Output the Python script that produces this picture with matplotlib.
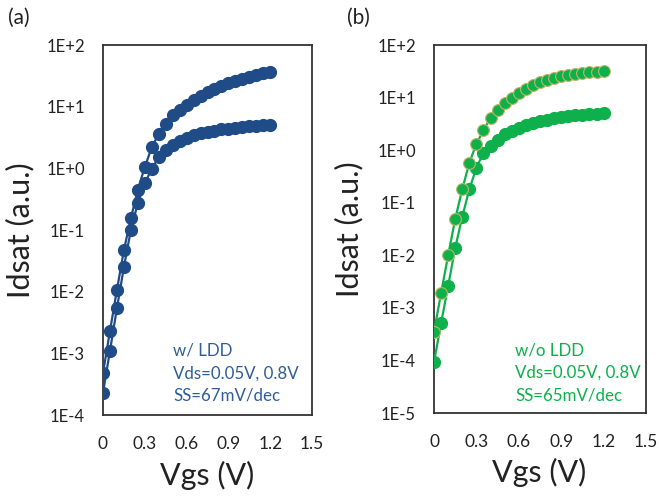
import matplotlib
matplotlib.use("Agg")
import matplotlib.pyplot as plt
from matplotlib.ticker import LogLocator, FuncFormatter, NullLocator
import numpy as np

plt.rcParams['font.family'] = ['Lato', 'DejaVu Sans']

# gate voltage sweep (V)
vgs = [0.0, 0.05, 0.1, 0.15, 0.2, 0.25, 0.3, 0.35, 0.4, 0.45, 0.5, 0.55, 0.6,
       0.65, 0.7, 0.75, 0.8, 0.85, 0.9, 0.95, 1.0, 1.05, 1.1, 1.15, 1.2]

# (a) w/ LDD
ldd_vds08 = [4.8e-4, 2.3e-3, 1.07e-2, 4.7e-2, 0.155, 0.45, 1.05, 2.2, 3.6, 5.2, 7.2, 8.9, 10.7,
             12.6, 14.8, 17.0, 19.5, 21.9, 24.0, 26.3, 28.2, 30.2, 32.4, 34.7, 36.3]
ldd_vds005 = [2.3e-4, 1.1e-3, 5.4e-3, 2.5e-2, 0.10, 0.275, 0.575, 0.98, 1.51, 2.0, 2.4, 2.8, 3.16,
              3.47, 3.72, 3.89, 4.07, 4.27, 4.42, 4.57, 4.68, 4.79, 4.90, 4.95, 5.0]

# (b) w/o LDD
noldd_vds08 = [3.5e-4, 1.9e-3, 1.0e-2, 4.9e-2, 0.18, 0.575, 1.32, 2.4, 4.07, 5.75, 7.9, 9.8, 12.0,
               14.5, 17.0, 19.5, 21.9, 24.0, 25.7, 26.9, 28.2, 29.5, 30.2, 31.3, 32.4]
noldd_vds005 = [9.3e-5, 5.1e-4, 2.6e-3, 1.38e-2, 5.4e-2, 0.18, 0.46, 0.89, 1.2, 1.58, 2.0, 2.34, 2.69,
                3.02, 3.31, 3.55, 3.80, 4.07, 4.27, 4.47, 4.57, 4.73, 4.84, 4.95, 5.0]

x_ticks = [0, 0.3, 0.6, 0.9, 1.2, 1.5]

blue = '#1f4b87'
blue_txt = '#2f5d9b'
green = '#0db04b'
green_edge = '#c2b462'


def sci_fmt(v, pos):
    e = int(round(np.log10(v)))
    return f"1E{e:+d}"


def style_axes(ax, ymin, ymax):
    ax.set_yscale('log')
    ax.set_xlim(0, 1.5)
    ax.set_ylim(ymin, ymax)
    ax.set_xticks(x_ticks)
    ax.set_xticklabels(['0', '0.3', '0.6', '0.9', '1.2', '1.5'])
    ax.yaxis.set_major_locator(LogLocator(base=10, numticks=12))
    ax.yaxis.set_minor_locator(NullLocator())
    ax.yaxis.set_major_formatter(FuncFormatter(sci_fmt))
    ax.tick_params(axis='y', length=0, pad=13, labelsize=12, colors='#222222')
    ax.tick_params(axis='x', length=0, pad=15, labelsize=12.5, colors='#222222')
    for s in ax.spines.values():
        s.set_linewidth(1.3)
        s.set_color('#333333')
    ax.set_xlabel('Vgs (V)', fontsize=22, color='#222222')
    ax.set_ylabel('Idsat (a.u.)', fontsize=22, color='#222222')


fig = plt.figure(figsize=(6.59, 4.97), dpi=100)

ax1 = fig.add_axes([103 / 659, 1 - 415 / 497, 209 / 659, 370 / 497])
ax1.plot(vgs, ldd_vds005, '-o', color=blue, lw=1.6, ms=8.5, mec=blue, zorder=3)
ax1.plot(vgs, ldd_vds08, '-o', color=blue, lw=1.6, ms=8.5, mec=blue, zorder=3)
style_axes(ax1, 1e-4, 1e2)
ax1.xaxis.set_label_coords(0.5, -0.125)
ax1.yaxis.set_label_coords(-0.33, 0.5)
ax1.text(0.335, 0.113, 'w/ LDD\nVds=0.05V, 0.8V\nSS=67mV/dec', transform=ax1.transAxes,
         ha='left', va='center', fontsize=12.2, color=blue_txt, linespacing=1.5)

ax2 = fig.add_axes([434 / 659, 1 - 413 / 497, 212 / 659, 368 / 497])
ax2.plot(vgs, noldd_vds005, '-o', color=green, lw=1.6, ms=8.5, mec=green, zorder=3)
ax2.plot(vgs, noldd_vds08, '-o', color=green, lw=1.6, ms=8.5, mec=green_edge, mew=0.8, zorder=3)
style_axes(ax2, 1e-5, 1e2)
ax2.xaxis.set_label_coords(0.495, -0.123)
ax2.yaxis.set_label_coords(-0.335, 0.5)
ax2.text(0.382, 0.109, 'w/o LDD\nVds=0.05V, 0.8V\nSS=65mV/dec', transform=ax2.transAxes,
         ha='left', va='center', fontsize=12.2, color=green, linespacing=1.5)

fig.text(8 / 659, 1 - 18 / 497, '(a)', fontsize=15, ha='left', va='center', color='#222222')
fig.text(347 / 659, 1 - 18 / 497, '(b)', fontsize=15, ha='left', va='center', color='#222222')

fig.savefig('out.png', dpi=100)
